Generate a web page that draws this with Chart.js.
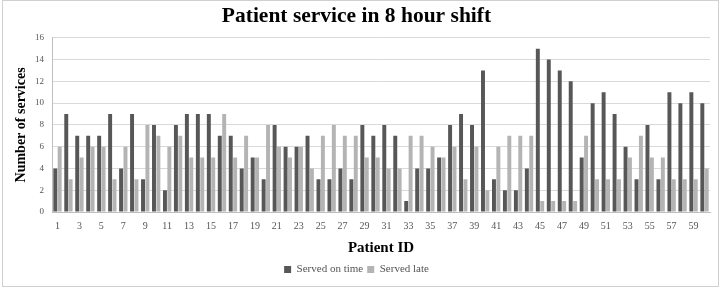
<!DOCTYPE html>
<html>
<head>
<meta charset="utf-8">
<script src="https://cdn.jsdelivr.net/npm/chart.js@4/dist/chart.umd.min.js"></script>
<style>
html,body{margin:0;padding:0;background:#fff;}
#wrap{position:relative;width:722px;height:288px;}
canvas{display:block;}
</style>
</head>
<body>
<div id="wrap"><canvas id="c" width="722" height="288"></canvas></div>
<script>
const patientIds = Array.from({length: 60}, (_, i) => String(i + 1));
const servedOnTime = [4,9,7,7,7,9,4,9,3,8,2,8,9,9,9,7,7,4,5,3,8,6,6,7,3,3,4,3,8,7,8,7,1,4,4,5,8,9,8,13,3,2,2,4,15,14,13,12,5,10,11,9,6,3,8,3,11,10,11,10];
const servedLate   = [6,3,5,6,6,3,6,3,8,7,6,7,5,5,5,9,5,7,5,8,6,5,6,4,7,8,7,7,5,5,4,4,7,7,6,5,6,3,6,2,6,7,7,7,1,1,1,1,7,3,3,3,5,7,5,5,3,3,3,4];
const yTicks = [0,2,4,6,8,10,12,14,16];

const serif = "'Liberation Serif', 'Times New Roman', serif";

const borderPlugin = {
  id: 'outerBorder',
  beforeDraw(chart) {
    const ctx = chart.ctx;
    ctx.save();
    ctx.fillStyle = '#ffffff';
    ctx.fillRect(0, 0, chart.width, chart.height);
    ctx.strokeStyle = '#d0d0d0';
    ctx.lineWidth = 1;
    ctx.strokeRect(2.5, 0.5, 716, 286);
    ctx.restore();
  }
};

new Chart(document.getElementById('c'), {
  type: 'bar',
  data: {
    labels: patientIds,
    datasets: [
      { label: 'Served on time', data: servedOnTime, backgroundColor: '#575757', borderWidth: 0 },
      { label: 'Served late', data: servedLate, backgroundColor: '#b4b4b4', borderWidth: 0 }
    ]
  },
  options: {
    responsive: false,
    animation: false,
    devicePixelRatio: 1,
    datasets: { bar: { categoryPercentage: 0.8, barPercentage: 0.9 } },
    layout: { padding: { left: 3, right: 12, top: 4, bottom: 3 } },
    plugins: {
      title: {
        display: true,
        text: 'Patient service in 8 hour shift',
        color: '#000',
        font: { family: serif, size: 21.5, weight: 'bold' },
        padding: { top: 0, bottom: 8 }
      },
      legend: {
        position: 'bottom',
        labels: {
          color: '#555',
          font: { family: serif, size: 11 },
          boxWidth: 7, boxHeight: 7, padding: 4
        }
      },
      tooltip: { enabled: false }
    },
    scales: {
      x: {
        afterFit: (s) => { s.height = 48; },
        grid: { display: false, drawTicks: false },
        border: { display: true, color: '#bfbfbf' },
        ticks: {
          autoSkip: false, maxRotation: 0, minRotation: 0,
          color: '#555', font: { family: serif, size: 10 }, padding: 8,
          callback: function(v, i) { return i % 2 === 0 ? patientIds[i] : ''; }
        },
        title: {
          display: true, text: 'Patient ID', color: '#000',
          font: { family: serif, size: 15, weight: 'bold' },
          padding: { top: 6, bottom: 3 }
        }
      },
      y: {
        min: 0, max: 16,
        afterFit: (s) => { s.width = 49; },
        afterBuildTicks: (s) => { s.ticks = yTicks.map(v => ({ value: v })); },
        grid: { color: '#d9d9d9', drawTicks: false },
        border: { display: true, color: '#bfbfbf' },
        ticks: { color: '#555', font: { family: serif, size: 9 }, padding: 8 },
        title: {
          display: true, text: 'Number of services', color: '#000',
          font: { family: serif, size: 14, weight: 'bold' },
          padding: { top: 10, bottom: 6 }
        }
      }
    }
  },
  plugins: [borderPlugin]
});
</script>
</body>
</html>
